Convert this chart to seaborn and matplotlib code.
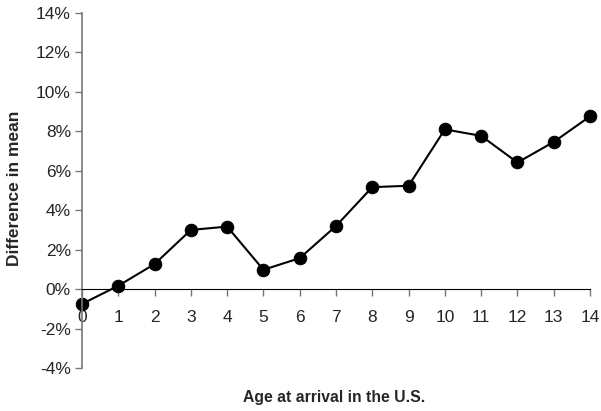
import numpy as np
import pandas as pd
import seaborn as sns
import matplotlib.pyplot as plt
from matplotlib.ticker import FuncFormatter

ages = list(range(15))
diff_mean = [-0.75, 0.17, 1.27, 3.0, 3.17, 0.98, 1.57, 3.2, 5.17, 5.24,
             8.1, 7.77, 6.42, 7.46, 8.76]
y_ticks = [-4, -2, 0, 2, 4, 6, 8, 10, 12, 14]

df = pd.DataFrame({"age": ages, "diff": diff_mean})

sns.set_style("white", {"xtick.bottom": True, "ytick.left": True})
plt.rcParams["font.family"] = ["Liberation Sans", "DejaVu Sans"]

fig = plt.figure(figsize=(6.01, 4.11), dpi=100)
ax = fig.add_axes([82 / 601, 1 - 368 / 411, 508 / 601, 355 / 411])

sns.lineplot(data=df, x="age", y="diff", ax=ax, color="black", lw=1.5,
             marker="o", markersize=9, markeredgecolor="black", clip_on=False)

ax.set_xlim(0, 14)
ax.set_ylim(-4, 14)
ax.set_xticks(ages)
ax.set_yticks(y_ticks)
ax.yaxis.set_major_formatter(FuncFormatter(lambda v, p: f"{v:.0f}%"))

ax.spines["top"].set_visible(False)
ax.spines["right"].set_visible(False)
ax.spines["bottom"].set_position(("data", 0))
ax.spines["bottom"].set_color("black")
ax.spines["left"].set_color("#777777")
ax.spines["left"].set_linewidth(1.2)

ax.tick_params(axis="x", direction="out", length=5, width=1, color="#777777",
               pad=10, labelsize=12.5)
ax.tick_params(axis="y", direction="out", length=5, width=1, color="#777777",
               pad=3, labelsize=12.5)

ax.set_xlabel("")
ax.set_ylabel("")
fig.text(334 / 601, 1 - 397 / 411, "Age at arrival in the U.S.",
         ha="center", va="center", fontsize=11.3, fontweight="bold")
fig.text(15 / 601, 1 - 188 / 411, "Difference in mean", rotation=90,
         ha="center", va="center", fontsize=12.5, fontweight="bold")

fig.savefig("out.png", dpi=100)
